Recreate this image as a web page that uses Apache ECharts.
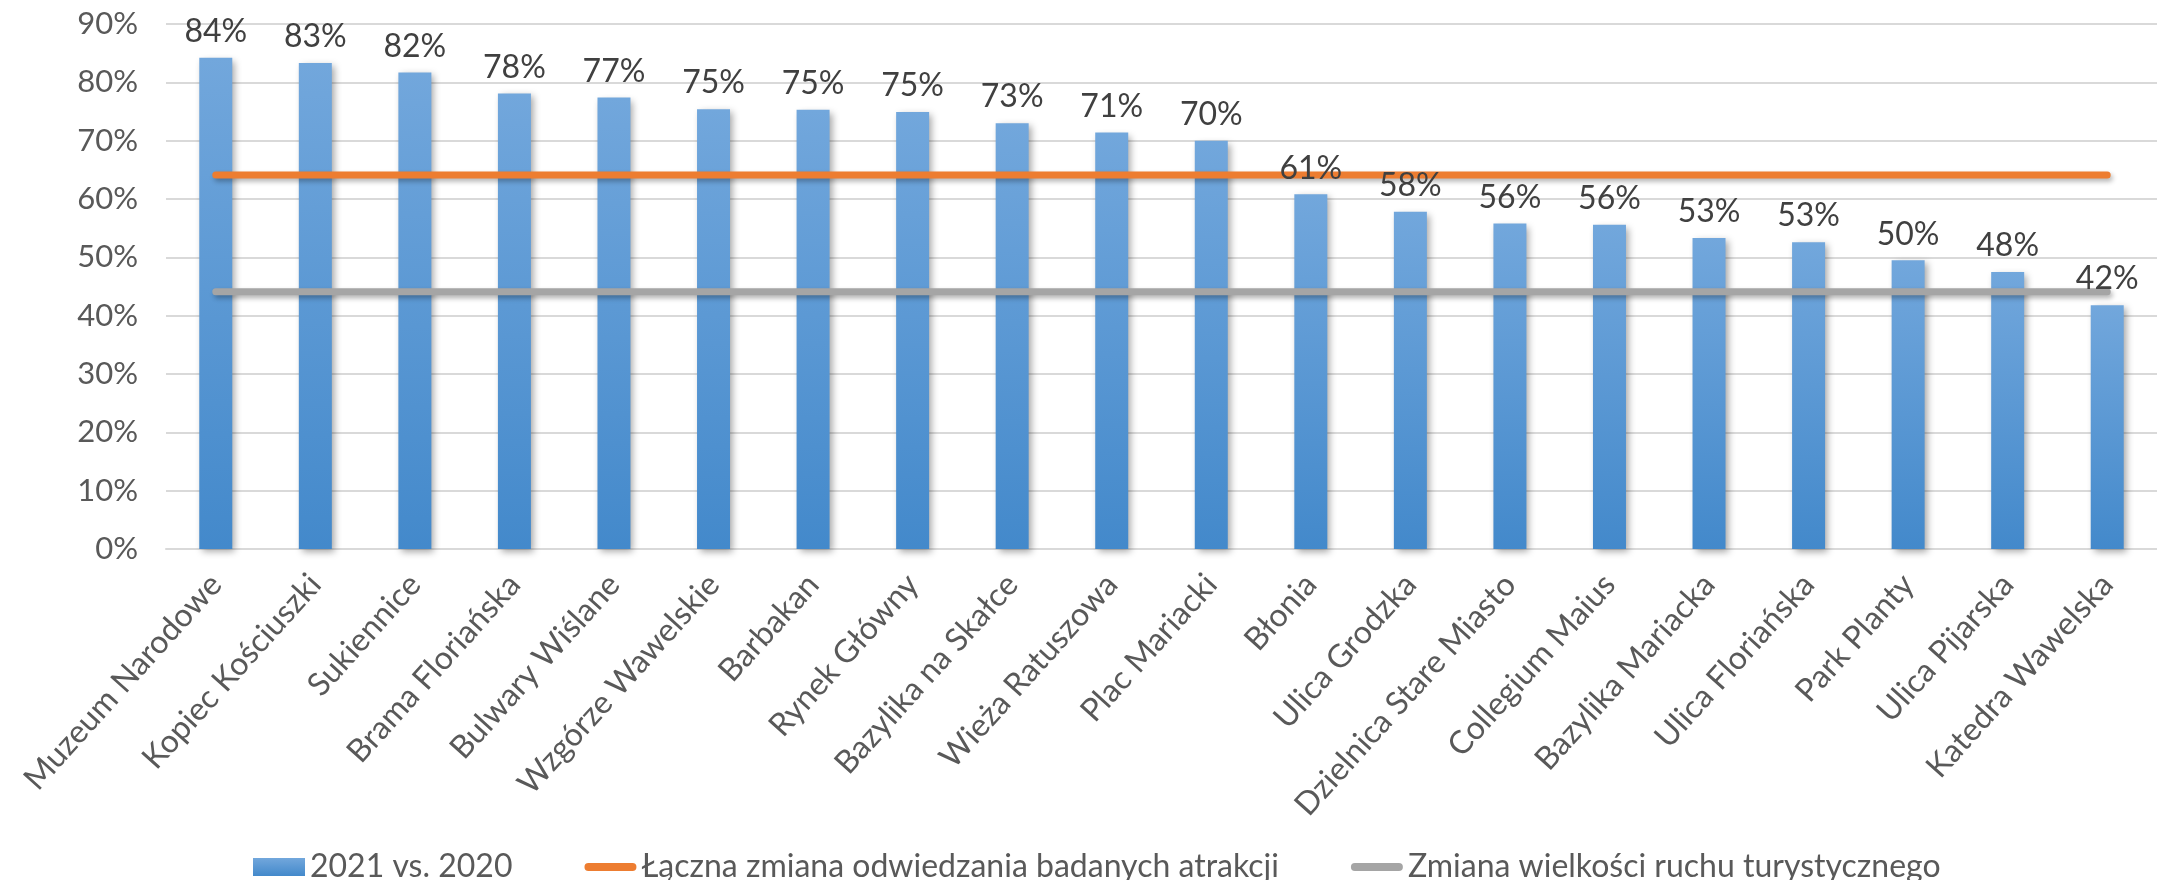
<!DOCTYPE html>
<html>
<head>
<meta charset="utf-8">
<title>Zmiana odwiedzania atrakcji 2021 vs. 2020</title>
<script src="https://cdn.jsdelivr.net/npm/echarts@6/dist/echarts.min.js"></script>
<style>
  html, body { margin: 0; padding: 0; background: #fff; }
  #chart { width: 2157px; height: 880px; }
</style>
</head>
<body>
<div id="chart"></div>
<script>
const categories = [
  'Muzeum Narodowe', 'Kopiec Kościuszki', 'Sukiennice', 'Brama Floriańska',
  'Bulwary Wiślane', 'Wzgórze Wawelskie', 'Barbakan', 'Rynek Główny',
  'Bazylika na Skałce', 'Wieża Ratuszowa', 'Plac Mariacki', 'Błonia',
  'Ulica Grodzka', 'Dzielnica Stare Miasto', 'Collegium Maius', 'Bazylika Mariacka',
  'Ulica Floriańska', 'Park Planty', 'Ulica Pijarska', 'Katedra Wawelska'
]
// 2021 vs. 2020, %
const change2021 = [
  84.2, 83.3, 81.7, 78.1, 77.4, 75.4, 75.3, 74.9, 73.0, 71.4,
  70.0, 60.8, 57.8, 55.8, 55.6, 53.3, 52.6, 49.5, 47.5, 41.8
]
const totalAttractions = 64.1
const touristTraffic = 44.1
const yTicks = {min: 0, max: 90, interval: 10}

const seriesNames = ['2021 vs. 2020', 'Łączna zmiana odwiedzania badanych atrakcji', 'Zmiana wielkości ruchu turystycznego']
const font = 'Lato'

const chart = echarts.init(document.getElementById('chart'))

const flatLine = (v) => categories.map(() => v)
const lineShadow = {shadowColor: 'rgba(0,0,0,0.3)', shadowBlur: 5, shadowOffsetX: 2, shadowOffsetY: 3}
const lineIcon = 'path://M4,0 L48,0 A4,4 0 0 1 48,8 L4,8 A4,4 0 0 1 4,0 Z'

chart.setOption({
  animation: false,
  textStyle: {fontFamily: font},
  grid: {left: 166, right: -17, top: 24, bottom: 331, containLabel: false},
  legend: {
    left: 248,
    top: 846,
    itemWidth: 52,
    itemHeight: 18,
    itemGap: 72,
    textStyle: {fontFamily: font, fontSize: 32, color: '#595959'},
    data: [
      {name: seriesNames[0], icon: 'rect'},
      {name: seriesNames[1], icon: lineIcon},
      {name: seriesNames[2], icon: lineIcon}
    ]
  },
  xAxis: {
    type: 'category',
    data: categories,
    axisLine: {lineStyle: {color: '#d9d9d9', width: 2}},
    axisTick: {show: false},
    axisLabel: {rotate: 48, interval: 0, margin: 30, fontSize: 32, color: '#595959', fontFamily: font}
  },
  yAxis: {
    type: 'value',
    min: yTicks.min,
    max: yTicks.max,
    interval: yTicks.interval,
    axisLine: {show: false},
    axisTick: {show: false},
    splitLine: {lineStyle: {color: '#d9d9d9', width: 2}},
    axisLabel: {formatter: '{value}%', margin: 28, fontSize: 31, color: '#595959', fontFamily: font}
  },
  series: [
    {
      name: seriesNames[0],
      type: 'bar',
      data: change2021,
      barWidth: 33,
      z: 2,
      itemStyle: {
        color: new echarts.graphic.LinearGradient(0, 0, 0, 1, [
          {offset: 0, color: '#72a7dc'},
          {offset: 1, color: '#4389cb'}
        ]),
        shadowColor: 'rgba(0,0,0,0.35)',
        shadowBlur: 7,
        shadowOffsetX: 3,
        shadowOffsetY: 3
      },
      label: {show: false}
    },
    {
      name: seriesNames[1],
      type: 'line',
      data: flatLine(totalAttractions),
      symbol: 'none',
      z: 3,
      color: '#ed7d31',
      lineStyle: Object.assign({color: '#ed7d31', width: 7, cap: 'round'}, lineShadow)
    },
    {
      name: seriesNames[2],
      type: 'line',
      data: flatLine(touristTraffic),
      symbol: 'none',
      z: 3,
      color: '#a5a5a5',
      lineStyle: Object.assign({color: '#a5a5a5', width: 7, cap: 'round'}, lineShadow)
    },
    {
      // invisible copy of the bars, only to put the value labels above the lines
      name: 'labels',
      type: 'bar',
      data: change2021,
      barWidth: 33,
      barGap: '-100%',
      z: 5,
      silent: true,
      itemStyle: {color: 'rgba(0,0,0,0)'},
      label: {
        show: true,
        position: 'top',
        distance: 10,
        fontSize: 32,
        color: '#404040',
        fontFamily: font,
        formatter: (p) => Math.round(p.value) + '%'
      }
    }
  ]
})
</script>
</body>
</html>
